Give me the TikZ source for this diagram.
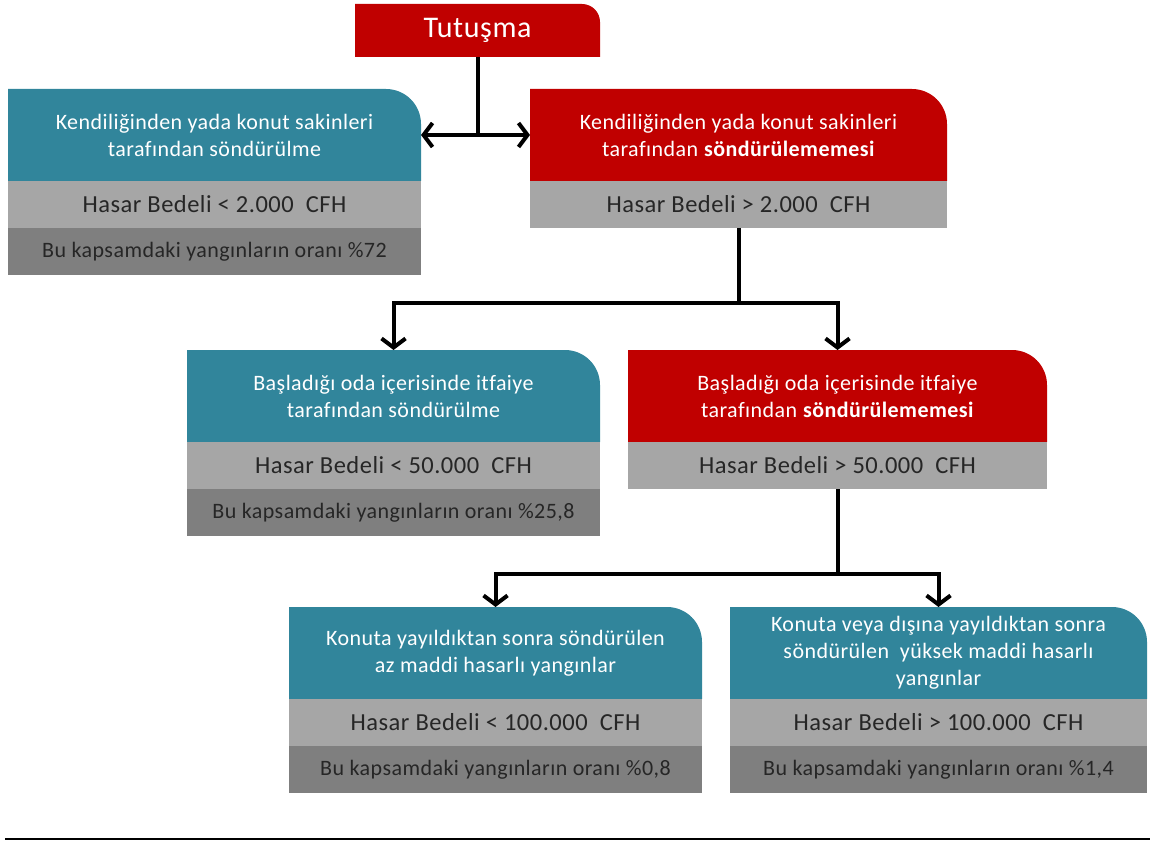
\documentclass[tikz,border=0pt]{standalone}
\usepackage{fontspec}
\setmainfont{Carlito}[LetterSpace=2, Ligatures=NoCommon]
\usetikzlibrary{positioning,arrows.meta,backgrounds}

\definecolor{tealbox}{RGB}{49,133,155}
\definecolor{redbox}{RGB}{192,0,0}
\definecolor{costgray}{RGB}{166,166,166}
\definecolor{sharegray}{RGB}{127,127,127}

%%% fill of a header: only the upper right corner is rounded
\newcommand{\hdrfill}[3]{%
  \fill[#2] (#1.south west) -- (#1.north west) -- ([xshift=-#3]#1.north east)
    arc[start angle=90, end angle=0, radius=#3] -- (#1.south east) -- cycle;}

\tikzset{
  hdr/.style={text=white, align=center, inner sep=0pt, outer sep=0pt, minimum height=92pt, font=\fontsize{22}{27}\selectfont},
  cost/.style={fill=costgray, text=black!85, inner sep=0pt, outer sep=0pt, minimum height=47pt, font=\fontsize{24.5}{28}\selectfont},
  share/.style={fill=sharegray, text=black!85, inner sep=0pt, outer sep=0pt, minimum height=47pt, font=\fontsize{22}{26}\selectfont},
  link/.style={line width=4pt},
  flow/.style={link, -{Straight Barb[length=9pt,width=24pt]}}
}

\begin{document}
\begin{tikzpicture}[x=1pt, y=-1pt]
  \useasboundingbox (0,0) rectangle (1154,842);
  %%% start
  \node[hdr, minimum width=245pt, minimum height=53pt, font=\fontsize{30}{34}\selectfont] (ign) at (477.5,30.5) {Tutuşma};
  %%% first level
  \node[hdr, minimum width=413pt] (selfout) at (214.5,135) {Kendiliğinden yada konut sakinleri\\tarafından söndürülme};
  \node[cost, minimum width=413pt, below=0pt of selfout] (selfcost) {Hasar Bedeli < 2.000~~CFH};
  \node[share, minimum width=413pt, below=0pt of selfcost] (selfshare) {Bu kapsamdaki yangınların oranı \%72};
  \node[hdr, minimum width=417pt] (selfnot) at (738.5,135) {Kendiliğinden yada konut sakinleri\\tarafından \textbf{söndürülememesi}};
  \node[cost, minimum width=417pt, below=0pt of selfnot] (selfnotcost) {Hasar Bedeli > 2.000~~CFH};
  %%% second level
  \node[hdr, minimum width=413pt] (roomout) at (393.5,396) {Başladığı oda içerisinde itfaiye\\tarafından söndürülme};
  \node[cost, minimum width=413pt, below=0pt of roomout] (roomcost) {Hasar Bedeli < 50.000~~CFH};
  \node[share, minimum width=413pt, below=0pt of roomcost] (roomshare) {Bu kapsamdaki yangınların oranı \%25,8};
  \node[hdr, minimum width=419pt] (roomnot) at (837.5,396) {Başladığı oda içerisinde itfaiye\\tarafından \textbf{söndürülememesi}};
  \node[cost, minimum width=419pt, below=0pt of roomnot] (roomnotcost) {Hasar Bedeli > 50.000~~CFH};
  %%% third level
  \node[hdr, minimum width=413pt] (lowdmg) at (495.5,653) {Konuta yayıldıktan sonra söndürülen\\az maddi hasarlı yangınlar};
  \node[cost, minimum width=413pt, below=0pt of lowdmg] (lowcost) {Hasar Bedeli < 100.000~~CFH};
  \node[share, minimum width=413pt, below=0pt of lowcost] (lowshare) {Bu kapsamdaki yangınların oranı \%0,8};
  \node[hdr, minimum width=417pt] (highdmg) at (938.5,653) {Konuta veya dışına yayıldıktan sonra\\söndürülen~~yüksek maddi hasarlı\\yangınlar};
  \node[cost, minimum width=417pt, below=0pt of highdmg] (highcost) {Hasar Bedeli > 100.000~~CFH};
  \node[share, minimum width=417pt, below=0pt of highcost] (highshare) {Bu kapsamdaki yangınların oranı \%1,4};
  %%% header fills
  \begin{scope}[on background layer]
    \hdrfill{ign}{redbox}{18pt}
    \foreach \n/\c in {selfout/tealbox, selfnot/redbox, roomout/tealbox, roomnot/redbox, lowdmg/tealbox, highdmg/tealbox}{
      \hdrfill{\n}{\c}{35pt}
    }
  \end{scope}
  %%% connectors
  \coordinate (j1) at (ign.south |- selfout.east);
  \coordinate (j2) at ([yshift=-75pt]selfnotcost.south);
  \coordinate (j3) at ([yshift=-85pt]roomnotcost.south);
  \draw[link] (ign.south) -- (j1);
  \draw[flow] (j1) -- (selfout.east);
  \draw[flow] (j1) -- (selfnot.west);
  \draw[link] (selfnotcost.south) -- (j2);
  \draw[flow] (j2) -| (roomout.north);
  \draw[flow] (j2) -| (roomnot.north);
  \draw[link] (roomnotcost.south) -- (j3);
  \draw[flow] (j3) -| (lowdmg.north);
  \draw[flow] (j3) -| (highdmg.north);
  %%% rule under the figure
  \draw[line width=1.2pt] (5,839) -- (1150,839);
\end{tikzpicture}
\end{document}
